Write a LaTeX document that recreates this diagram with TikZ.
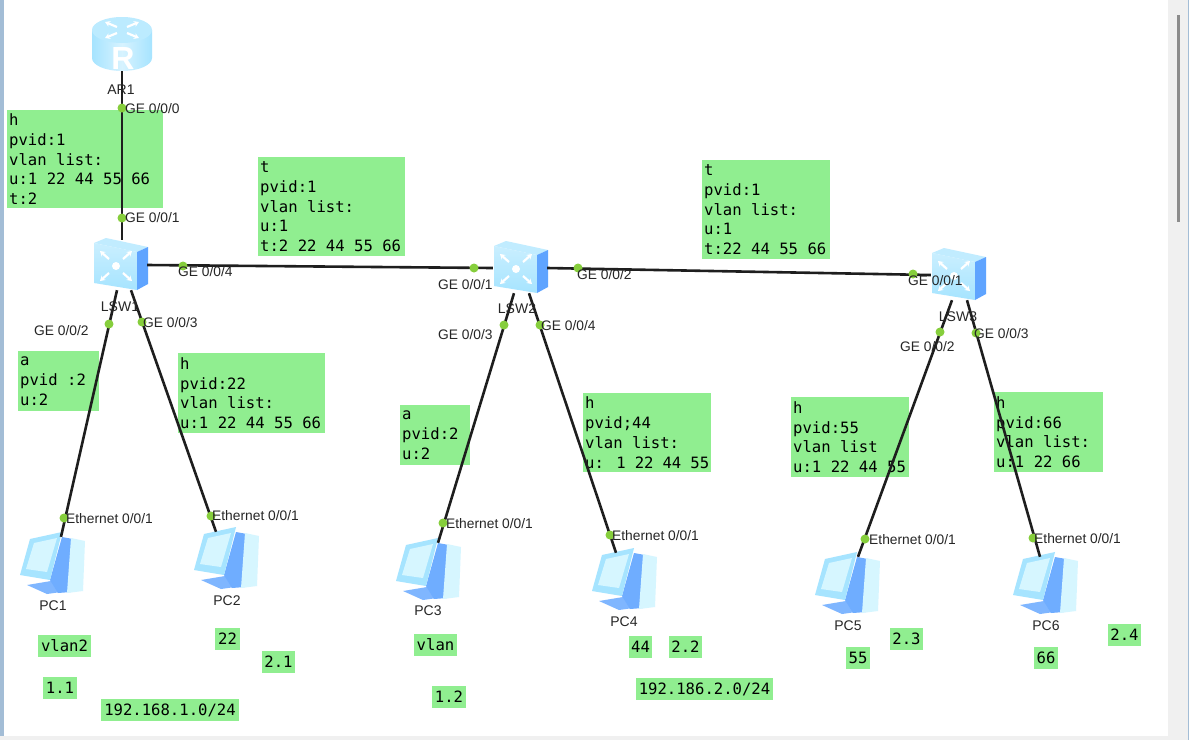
\documentclass[tikz,border=0pt]{standalone}
\usepackage{fontspec}
\setmainfont{Liberation Sans}
\newfontfamily\boxfont{DejaVu Sans Mono}
\usetikzlibrary{arrows.meta, positioning}
\definecolor{cgreen}{HTML}{90EE90}
\definecolor{cdot}{HTML}{86CE3C}
\definecolor{cline}{HTML}{1E1E1E}
\definecolor{cface}{HTML}{A6E4FF}
\definecolor{cdeep}{HTML}{5FA4FF}
\definecolor{cpale}{HTML}{D6F6FF}
\definecolor{cwin}{HTML}{F0F0F0}
\definecolor{cframe}{HTML}{A3BDD6}
\tikzset{
  every picture/.style={x=1pt, y=-1pt},
  notebox/.style={fill=cgreen, anchor=north west, inner xsep=2pt, inner ysep=0pt, align=left, text width=#1-4pt, minimum width=#1, font=\boxfont\fontsize{15.6}{19.7}\selectfont},
  tagbox/.style={fill=cgreen, inner sep=0pt, font=\boxfont\fontsize{15.6}{18}\selectfont},
  link/.style={draw=cline, line width=2.6pt},
  portdot/.style={circle, fill=cdot, inner sep=0pt, minimum size=9pt},
  portlabel/.style={anchor=west, inner sep=0pt, text=black!85, font=\fontsize{13.8}{15}\selectfont},
  devlabel/.style={inner sep=0pt, text=black!85, font=\fontsize{14}{16}\selectfont},
  device/.style={inner sep=0pt, minimum width=#1},
  ray/.style={draw=white, line width=2.2pt, -{Stealth[length=5pt,width=6pt]}},
}
\newcommand{\switchicon}[3]{
  \node[device=54pt, minimum height=50pt] (#1) at (#2,#3) {};
  \begin{scope}[shift={(#2,#3)}]
    \fill[cface!70] (-26,-22) -- (-14,-27) -- (28,-18) -- (17,-13) -- cycle;
    \shade[top color=cface!60, bottom color=cface] (-26,-22) -- (17,-13) -- (17,25) -- (-26,18) -- cycle;
    \fill[cdeep] (17,-13) -- (28,-18) -- (28,19) -- (17,25) -- cycle;
    \fill[white] (-4,1) circle (4);
    \foreach \dx/\dy in {-1/-1,1/-1,-1/1,1/1}
      \draw[ray] (-4+\dx*7,1+\dy*7) -- (-4+\dx*16,1+\dy*15);
  \end{scope}}
\newcommand{\pcicon}[3]{
  \node[device=60pt, minimum height=56pt] (#1) at (#2,#3) {};
  \begin{scope}[shift={(#2,#3)}]
    \fill[cdeep!80] (-26,20) -- (-2,16) -- (8,27) -- (-6,29) -- cycle;
    \fill[cdeep!90] (9,-28) -- (20,-26) -- (18,27) -- (5,28) -- (-3,15) -- cycle;
    \fill[cpale] (18,-27) -- (32,-24) -- (30,26) -- (14,28) -- cycle;
    \fill[cface] (-23,-26) -- (9,-33) -- (-3,15) -- (-33,10) -- cycle;
    \fill[cpale] (-19,-22) -- (4,-27) -- (-6,7) -- (-27,4) -- cycle;
  \end{scope}}
\newcommand{\notebox}[6]{\node[notebox=#4pt, minimum height=#5pt] (#1) at (#2,#3) {\spaceskip=0pt\xspaceskip=0pt\relax #6};}
\begin{document}
\begin{tikzpicture}
  \useasboundingbox (0,0) rectangle (1189,740);
  \fill[white] (0,0) rectangle (1189,740);
  \fill[cframe] (0,0) rectangle (4,740);
  \fill[cwin] (0,736) rectangle (1189,740);
  \fill[cwin] (1168,0) rectangle (1189,740);
  \fill[cframe] (1188,0) rectangle (1189,740);
  \fill[black!45] (1177,15) rectangle (1180,222);
  % vlan notes
  \notebox{noteA}{7}{110}{156}{98}{h\\pvid:1\\vlan list:\\u:1 22 44 55 66\\t:2}
  \notebox{noteB}{258}{157}{147}{99}{t\\pvid:1\\vlan list:\\u:1\\t:2 22 44 55 66}
  \notebox{noteC}{702}{160}{128}{99}{t\\pvid:1\\vlan list:\\u:1\\t:22 44 55 66}
  \notebox{noteD}{18}{351}{81}{60}{a\\pvid :2\\u:2}
  \notebox{noteE}{178}{353}{147}{80}{h\\pvid:22\\vlan list:\\u:1 22 44 55 66}
  \notebox{noteF}{400}{405}{70}{60}{a\\pvid:2\\u:2}
  \notebox{noteG}{583}{393}{128}{79}{h\\pvid;44\\vlan list:\\u: 1 22 44 55}
  \notebox{noteH}{791}{397}{118}{80}{h\\pvid:55\\vlan list\\u:1 22 44 55}
  \notebox{noteI}{994}{392}{109}{80}{h\\pvid:66\\vlan list:\\u:1 22 66}
  % small tags
  \foreach \n/\x/\y/\w/\t in {tagA/64.5/646/53/vlan2, tagB/60/687.5/34/1.1, tagC/227.5/639/25/22, tagD/278.5/661.5/33/2.1, tagE/170/710/138/192.168.1.0\slash 24, tagF/435.5/644.5/43/vlan, tagG/449/697/34/1.2, tagH/640.5/647/23/44, tagI/685.5/647/33/2.2, tagJ/704.5/689/137/192.186.2.0\slash 24, tagK/858/658/24/55, tagL/906.5/639/33/2.3, tagM/1046/658/24/66, tagN/1124.5/635/33/2.4}
    \node[tagbox, minimum width=\w pt, minimum height=22pt] (\n) at (\x,\y) {\t};
  % devices
  \node[device=60pt, minimum height=54pt] (ar1) at (122,44) {};
  \begin{scope}[shift={(122,44)}]
    \shade[left color=cface, right color=cface, middle color=cface!45] (-30,-14) -- (-30,14) arc[start angle=180, end angle=0, x radius=30, y radius=13] -- (30,-14) -- cycle;
    \fill[cface!75] (0,-14) ellipse (30 and 13);
    \node[inner sep=0pt, text=white, font=\bfseries\fontsize{32}{32}\selectfont] (ar1R) at (1,14) {R};
    \foreach \dx/\dy in {-1/-1,1/-1,-1/1,1/1}
      \draw[ray] (\dx*5,-14+\dy*3) -- (\dx*17,-14+\dy*8);
  \end{scope}
  \switchicon{lsw1}{120}{265}
  \switchicon{lsw2}{520}{268}
  \switchicon{lsw3}{958}{275}
  \pcicon{pc1}{53}{565}
  \pcicon{pc2}{227}{560}
  \pcicon{pc3}{429}{571}
  \pcicon{pc4}{625}{581}
  \pcicon{pc5}{848}{585}
  \pcicon{pc6}{1046}{585}
  % links
  \draw[link] (ar1) -- (lsw1.north -| ar1);
  \draw[link] (lsw1.east) -- (lsw2.west);
  \draw[link] (lsw2.east) -- (lsw3.west);
  \draw[link] ([xshift=-3pt]lsw1.south) -- ([xshift=8pt]pc1.north);
  \draw[link] ([xshift=11pt]lsw1.south) -- ([xshift=-11pt]pc2.north);
  \draw[link] ([xshift=-6pt]lsw2.south) -- ([xshift=9pt]pc3.north);
  \draw[link] ([xshift=9pt]lsw2.south) -- ([xshift=-9pt]pc4.north);
  \draw[link] ([xshift=-6pt]lsw3.south) -- ([xshift=10pt]pc5.north);
  \draw[link] ([xshift=9pt]lsw3.south) -- ([xshift=-6pt]pc6.north);
  % ports
  \foreach \n/\x/\y/\lx/\ly/\t in {a/122/108/125/109/GE 0\slash 0\slash 0, b/122/218/125/218/GE 0\slash 0\slash 1, c/183/266/178/272/GE 0\slash 0\slash 4, d/109/324/34/331/GE 0\slash 0\slash 2, e/142/322/143/323/GE 0\slash 0\slash 3, f/474/268/438/285/GE 0\slash 0\slash 1, g/578/268/577/275/GE 0\slash 0\slash 2, h/504/325/438/335/GE 0\slash 0\slash 3, i/540/325/541/326/GE 0\slash 0\slash 4, j/913/274/908/281/GE 0\slash 0\slash 1, k/940/332/900/347/GE 0\slash 0\slash 2, l/976/333/974/334/GE 0\slash 0\slash 3, m/64/518/66/519/Ethernet 0\slash 0\slash 1, n/211/516/212/516/Ethernet 0\slash 0\slash 1, o/443/523/446/524/Ethernet 0\slash 0\slash 1, p/610/535/612/536/Ethernet 0\slash 0\slash 1, q/865/539/869/540/Ethernet 0\slash 0\slash 1, r/1033/538/1034/539/Ethernet 0\slash 0\slash 1}{
    \node[portdot] (dot\n) at (\x,\y) {};
    \node[portlabel] (port\n) at (\lx,\ly) {\t};}
  % device names
  \foreach \n/\x/\y/\t in {ar1/121/90/AR1, lsw1/120/307/LSW1, lsw2/517/309/LSW2, lsw3/958/317/LSW3, pc1/53/606/PC1, pc2/227/601/PC2, pc3/428/611/PC3, pc4/624/622/PC4, pc5/848/626/PC5, pc6/1046/626/PC6}
    \node[devlabel] (name\n) at (\x,\y) {\t};
\end{tikzpicture}
\end{document}
